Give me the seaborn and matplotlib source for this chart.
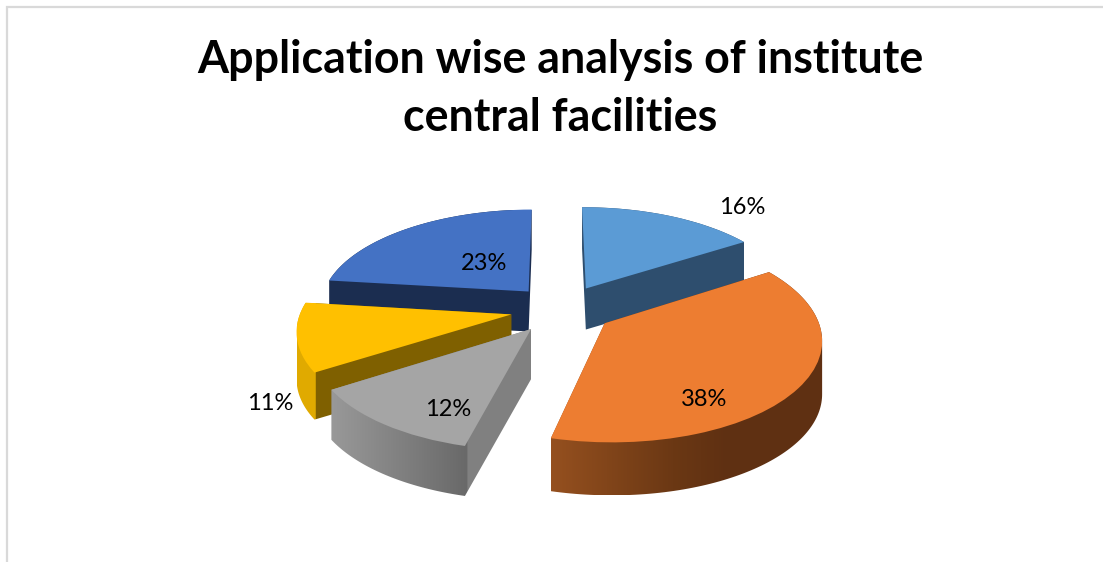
import numpy as np
import matplotlib
matplotlib.use("Agg")
import matplotlib.pyplot as plt
from matplotlib.colors import LinearSegmentedColormap
from matplotlib.patches import Polygon
from matplotlib.transforms import Transform
import seaborn as sns

# Data
shares = [16, 38, 12, 11, 23]
title_lines = ["Application wise analysis of institute", "central facilities"]

# Style
top_colors = ["#5B9BD5", "#ED7D31", "#A5A5A5", "#FFC000", "#4472C4"]
wall_stops = [
    [(0, "#2E4E6E"), (1, "#2E4E6E")],
    [(0, "#95501F"), (0.45, "#6B3814"), (0.65, "#5F3012"), (1, "#5F3012")],
    [(0, "#999999"), (0.68, "#696969"), (0.685, "#808080"), (1, "#808080")],
    [(0, "#E0AA00"), (0.085, "#E0AA00"), (0.09, "#7F6000"), (1, "#7F6000")],
    [(0, "#1B2D50"), (1, "#1B2D50")],
]
wall_depth = [41, 53, 50, 47, 40]
draw_order = [4, 3, 2, 0, 1]
label_xy = [(742, 208), (704, 400), (448, 410), (270, 404), (484, 264)]

sns.set_theme(style="white")
plt.rcParams["font.family"] = ["Lato", "DejaVu Sans"]


class Tilt(Transform):
    """Perspective view of the pie's plane, giving figure pixels."""
    input_dims = output_dims = 2
    cx, cy, a, b, k = 562, 309, 210, 98, 0.14

    def transform_non_affine(self, values):
        values = np.asarray(values, dtype=float)
        s = 1 / (1 + self.k * values[:, 1])
        return np.column_stack((self.cx + self.a * values[:, 0] * s,
                                self.cy - self.b * values[:, 1] * s))


def hull(points):
    pts = sorted(set(map(tuple, np.round(points, 3))))
    def half(seq):
        out = []
        for p in seq:
            while len(out) > 1 and ((out[-1][0] - out[-2][0]) * (p[1] - out[-2][1])
                                    - (out[-1][1] - out[-2][1]) * (p[0] - out[-2][0])) <= 0:
                out.pop()
            out.append(p)
        return out[:-1]
    return np.array(half(pts) + half(pts[::-1]))


fig = plt.figure(figsize=(11.03, 5.62), dpi=100, facecolor="white")
ax = fig.add_axes([0, 0, 1, 1])

wedges, _, autotexts = ax.pie(
    shares, colors=sns.color_palette(top_colors), startangle=90.3, counterclock=False,
    explode=[0.245] * len(shares), autopct="%.0f%%", wedgeprops={"linewidth": 0},
)
tilt = Tilt()
for z, i in enumerate(draw_order):
    w = wedges[i]
    w.set_transform(tilt + ax.transData)
    w.set_zorder(2 * z + 3)
    th = np.radians(np.linspace(w.theta1, w.theta2, 120))
    outline = np.vstack(([w.center],
                         np.column_stack((w.center[0] + w.r * np.cos(th),
                                          w.center[1] + w.r * np.sin(th)))))
    top = tilt.transform(outline)
    poly = hull(np.vstack((top, top + [0, wall_depth[i]])))
    x0, x1, y0, y1 = poly[:, 0].min(), poly[:, 0].max(), poly[:, 1].min(), poly[:, 1].max()
    cmap = LinearSegmentedColormap.from_list(f"wall{i}", wall_stops[i], N=512)
    im = ax.imshow(np.linspace(0, 1, 512)[None, :], cmap=cmap, aspect="auto",
                   extent=(x0, x1, y1, y0), zorder=2 * z + 2, interpolation="nearest")
    clip = Polygon(poly, closed=True, transform=ax.transData, facecolor="none", edgecolor="none")
    ax.add_patch(clip)
    im.set_clip_path(clip)

for t, xy in zip(autotexts, label_xy):
    t.set_position(xy)
    t.set_transform(ax.transData)
    t.set_fontsize(17)
    t.set_color("black")
    t.set_zorder(50)
    t.set_ha("center")
    t.set_va("center")

ax.set_aspect("auto")
ax.set_xlim(0, 1103)
ax.set_ylim(562, 0)
ax.set_axis_off()

ax.plot([7, 7, 1103], [562, 7, 7], color="#D9D9D9", lw=1.6, solid_joinstyle="miter", zorder=1)

ax.text(560.5, 60, title_lines[0], ha="center", va="center", fontsize=32.25, fontweight="bold", color="black")
ax.text(560.5, 118, title_lines[1], ha="center", va="center", fontsize=32.25, fontweight="bold", color="black")

fig.savefig("out.png", dpi=100, facecolor="white")
